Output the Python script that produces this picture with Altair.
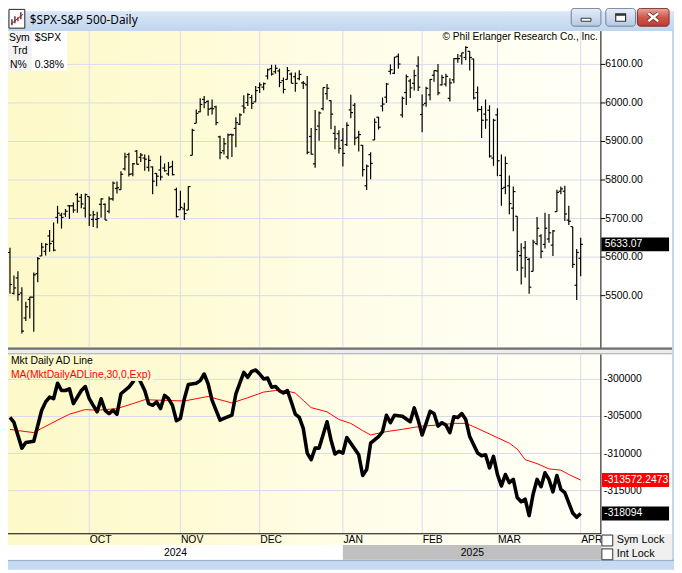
import altair as alt
import pandas as pd

# ---------------- data ----------------
# S&P 500 daily bars, 2024-09-03 .. 2025-04-01 (index = trading day)
opens = [5612,5506,5546,5507,5442,5490,5496,5557,5603,5615,5655,5641,5703,5709,5712,5733,5733,5762,5755,5727,
         5757,5698,5698,5737,5737,5719,5751,5778,5775,5829,5866,5816,5875,5859,5857,5833,5834,5817,5826,5831,5816,5835,5775,
         5723,5725,5722,5864,5947,5977,6009,6004,5986,5990,5912,5876,5860,5918,5934,5945,5992,6001,6014,6003,
         6040,6041,6070,6089,6081,6083,6058,6061,6075,6068,6063,6052,6047,5913,5842,5940,5985,6024,6006,5921,5920,
         5903,5892,5982,5994,5911,5890,5785,5866,5904,5963,5992,6015,6082,6077,6121,5969,6027,6057,6051,6096,
         5970,5999,6021,6072,6083,6047,6049,6012,6060,6115,6122,6118,6134,6114,6027,5983,5971,5981,5857,
         5969,5812,5781,5785,5727,5706,5604,5624,5594,5563,5635,5655,5633,5647,5631,5718,5771,5771,5696,5679,5527,
         5597]
highs = [5624,5552,5563,5522,5484,5497,5560,5600,5637,5636,5670,5690,5733,5715,5725,5735,5742,5767,5764,5765,
         5757,5720,5718,5753,5739,5757,5796,5796,5823,5871,5871,5844,5878,5870,5866,5864,5835,5818,5863,5843,5847,5850,5780,
         5772,5741,5784,5933,5983,6012,6018,6007,6009,5993,5915,5909,5921,5920,5963,5973,6020,6025,6021,6044,
         6053,6053,6089,6099,6099,6089,6066,6093,6079,6079,6085,6057,6070,5935,5982,5978,6040,6049,6007,5941,5929,
         5935,5950,6021,6000,5928,5891,5840,5872,5960,5964,6014,6052,6100,6119,6128,6017,6074,6063,6086,6121,
         6022,6042,6062,6084,6101,6073,6076,6064,6116,6127,6130,6147,6134,6115,6043,5992,6009,5994,5959,
         5986,5866,5861,5812,5783,5706,5636,5642,5598,5645,5704,5659,5715,5712,5670,5775,5783,5785,5733,5679,5621,
         5650]
lows = [5505,5503,5487,5402,5434,5441,5406,5535,5603,5604,5614,5615,5687,5674,5704,5699,5715,5715,5727,5703,
        5681,5678,5675,5703,5696,5714,5746,5765,5775,5825,5809,5810,5840,5847,5824,5822,5763,5784,5799,5822,5811,5812,5703,
        5723,5696,5722,5864,5947,5976,5986,5967,5970,5942,5854,5866,5854,5860,5885,5943,5973,5992,5984,6003,
        6026,6033,6061,6071,6076,6041,6025,6061,6051,6029,6059,6036,5867,5866,5832,5902,5981,6008,5932,5880,5869,
        5835,5888,5960,5890,5874,5809,5774,5802,5904,5931,5978,6000,6074,6075,6089,5962,5995,6013,6032,6031,
        5924,5990,6007,6055,6020,6045,6043,6004,6051,6104,6100,6111,6084,6009,5977,5909,5933,5858,5837,
        5810,5733,5763,5711,5667,5564,5529,5547,5505,5563,5631,5597,5622,5637,5603,5718,5763,5694,5683,5572,5489,
        5550]
closes = [5529,5520,5503,5408,5471,5496,5554,5596,5626,5633,5635,5618,5714,5703,5719,5733,5722,5745,5738,5762,
          5709,5710,5700,5751,5696,5751,5792,5780,5815,5860,5815,5842,5841,5865,5854,5851,5797,5810,5808,5824,5833,5814,5705,
          5729,5713,5783,5929,5973,5996,6001,5984,5985,5949,5871,5894,5917,5917,5949,5969,5987,6022,5999,6032,
          6047,6050,6086,6075,6090,6053,6035,6084,6051,6051,6074,6051,5872,5867,5931,5974,6040,6038,5971,5907,5882,
          5869,5942,5975,5909,5918,5827,5836,5843,5950,5937,5997,6049,6086,6119,6101,6012,6068,6039,6071,6041,
          5995,6038,6061,6084,6026,6066,6069,6052,6115,6115,6130,6144,6118,6013,5983,5955,5956,5862,5955,
          5850,5778,5843,5739,5770,5615,5572,5599,5522,5639,5675,5615,5675,5663,5668,5768,5777,5712,5693,5581,5612,
          5633.07]

# Market daily advance/decline line (vertices)
ad_idx = [0,1,3,4,6,8,9,10,11,12,13,14,15,16,18,19,20,21,22,23,24,25,26,27,28,30,31,32,33,34,35,36,37,38,39,40,
          41,42,43,44,45,47,48,49,50,51,53,54,56,57,59,60,61,62,63,64,65,66,67,68,69,70,71,72,73,74,75,76,77,78,
          80,81,82,83,84,85,86,88,89,90,91,93,94,95,96,97,99,101,102,103,104,105,106,107,108,109,110,111,112,113,
          114,115,116,118,119,120,121,122,123,124,125,126,127,128,129,130,131,132,133,134,135,136,137,138,139,140,
          142,143,144]
ad_vals = [-305133,-305800,-309267,-308507,-308333,-304160,-303040,-302373,-302600,-300507,-301493,-301493,-301267,
           -303267,-301493,-300960,-302600,-303493,-304373,-302600,-304160,-304600,-304160,-304693,-301933,-301040,
           -300373,-299400,-300373,-301493,-303267,-303493,-303040,-303933,-302160,-302600,-303493,-305573,-305267,
           -302600,-300693,-300507,-300160,-299267,-300600,-302827,-305493,-305267,-304827,-301933,-299040,-299707,
           -298907,-298733,-299267,-299933,-299800,-301040,-300960,-301533,-301840,-301493,-303040,-304693,-305133,
           -306600,-309933,-310827,-309267,-309267,-305707,-308160,-310067,-309707,-309933,-307840,-308600,-310160,
           -312960,-312160,-308600,-307707,-307040,-304827,-305840,-304827,-304960,-305707,-303840,-305493,-307493,
           -305933,-304293,-304600,-306293,-305840,-306160,-307173,-305040,-305133,-304600,-305400,-307707,-309933,
           -310293,-310160,-311933,-310373,-312827,-314373,-312827,-313933,-313493,-315933,-316507,-316160,-318373,
           -315493,-313493,-314467,-312600,-313493,-315173,-312960,-314827,-315267,-318027,-318600,-318094]
# 30-day exponential moving average of the AD line
ma_idx = [0,2,6,8,12,15,19,22,27,31,34,39,44,47,50,52,56,60,64,67,70,72,74,76,80,83,86,89,91,95,99,104,108,112,
          115,117,121,126,128,130,133,136,139,141,144]
ma_vals = [-306733,-306907,-307173,-306600,-305493,-304693,-304067,-304160,-303933,-303267,-302733,-302827,-302907,
           -302600,-302293,-302600,-303173,-302467,-301707,-301493,-301573,-301840,-302827,-303800,-304373,-305400,
           -305933,-306907,-307493,-307040,-306733,-306293,-306160,-305933,-305933,-306373,-307360,-308600,-309400,
           -310827,-311360,-312067,-312240,-312827,-313572.2473]

months = ["OCT", "NOV", "DEC", "JAN", "FEB", "MAR", "APR"]
month_idx = [20, 43, 63, 84, 104, 123, 144]
years = ["2024", "2025"]
year_start = [-0.5, 84]
year_end = [84, 149.35]
price_ticks = [5500, 5600, 5700, 5800, 5900, 6000, 6100]
ad_ticks = [-300000, -305000, -310000, -315000]
price_last_label = "5633.07"
ma_last_label = "-313572.2473"
ad_last_label = "-318094"

# ---------------- tables ----------------
n = len(closes)
bars = pd.DataFrame({"i": list(range(n)), "o": opens, "h": highs, "l": lows, "c": closes})
ad = pd.DataFrame({"i": ad_idx, "v": ad_vals})
ma = pd.DataFrame({"i": ma_idx, "v": ma_vals})
mon = pd.DataFrame({"i": month_idx, "m": months})
yr = pd.DataFrame({"y": years, "s": year_start, "e": year_end})
yr["mid"] = (yr["s"] + yr["e"]) / 2
pt = pd.DataFrame({"v": price_ticks, "lab": [f"{v:.2f}" for v in price_ticks]})
at = pd.DataFrame({"v": ad_ticks, "lab": [str(v) for v in ad_ticks]})
plast = pd.DataFrame({"v": [closes[-1]], "lab": [price_last_label]})
malast = pd.DataFrame({"v": [ma_vals[-1]], "lab": [ma_last_label]})
adlast = pd.DataFrame({"v": [ad_vals[-1]], "lab": [ad_last_label]})
one = pd.DataFrame({"k": [0]})

FONT = "Liberation Sans"
GRID = "#d9d9ef"
FS = 10.5

X = alt.Scale(domain=[-0.5, 149.1], range=[0, 600], nice=False, zero=False)
YP = alt.Scale(domain=[5365.9, 6186.4], range=[340, 20], nice=False, zero=False)
YA = alt.Scale(domain=[-320733, -296733], range=[528, 348], nice=False, zero=False)


def xq(f):
    return alt.X(f"{f}:Q", scale=X, axis=None)


def yp(f):
    return alt.Y(f"{f}:Q", scale=YP, axis=None)


def ya(f):
    return alt.Y(f"{f}:Q", scale=YA, axis=None)


def grad(stops, vertical=False):
    return alt.LinearGradient(
        gradient="linear",
        stops=[alt.GradientStop(color=c, offset=o) for o, c in stops],
        x1=0, y1=0, x2=0 if vertical else 1, y2=1 if vertical else 0)


def box(x, x2, y, y2, **kw):
    return alt.Chart(one).mark_rect(**kw).encode(
        x=alt.value(x), x2=alt.value(x2), y=alt.value(y), y2=alt.value(y2))


def seg(x, x2, y, y2, **kw):
    return alt.Chart(one).mark_rule(**kw).encode(
        x=alt.value(x), x2=alt.value(x2), y=alt.value(y), y2=alt.value(y2))


def label(s, x, y, **kw):
    kw.setdefault("font", FONT)
    kw.setdefault("fontSize", FS)
    kw.setdefault("color", "black")
    return alt.Chart(one).mark_text(text=s, **kw).encode(x=alt.value(x), y=alt.value(y))


PANEL = grad([(0, "#fdf9c9"), (0.3, "#fefbd5"), (0.65, "#fffeec"), (1, "#fffff7")])

layers = []
# window chrome
layers += [
    box(0, 674, 0, 20, fill=grad([(0, "#d9e7f7"), (1, "#c0d5ee")], vertical=True)),
    box(672, 674, 20, 565, fill="#c3d7ef"),
    box(0, 674, 555, 565, fill="#c6daf1"),
    seg(0, 674, 555.5, 555.5, color="#8aa2c2", strokeWidth=1),
    # icon
    box(1, 17, -2, 17, fill="white", stroke="#222222", strokeWidth=1),
    seg(4, 4, 8, 14, color="#222222", strokeWidth=1.3),
    seg(7, 7, 5, 12, color="#222222", strokeWidth=1.3),
    seg(10, 10, 6, 10, color="#cc0000", strokeWidth=1.3),
    seg(13, 13, 1, 8, color="#222222", strokeWidth=1.3),
    seg(3, 15, 13, 3, color="#cc0000", strokeWidth=1),
    label("$SPX-S&P 500-Daily", 22, 8.5, align="left", font="Noto Sans", fontSize=12),
    # buttons
    box(570, 600, -3, 15, fill=grad([(0, "#e6eef8"), (1, "#b6c9e2")], vertical=True),
        stroke="#6f7f99", cornerRadius=3),
    box(580, 590, 7, 10, fill="white", stroke="#333333", strokeWidth=1),
    box(605, 635, -3, 15, fill=grad([(0, "#e6eef8"), (1, "#b6c9e2")], vertical=True),
        stroke="#6f7f99", cornerRadius=3),
    box(615, 625, 2.5, 10, fill="white", stroke="#333333", strokeWidth=1.2),
    seg(615, 625, 3.5, 3.5, color="#333333", strokeWidth=2),
    box(637, 669, -3, 15, fill=grad([(0, "#e8a79d"), (0.5, "#d0594c"), (1, "#c0392f")], vertical=True),
        stroke="#7c2e27", cornerRadius=3),
    seg(648, 658, 2, 10, color="#5a1a15", strokeWidth=4),
    seg(648, 658, 10, 2, color="#5a1a15", strokeWidth=4),
    seg(648, 658, 2, 10, color="white", strokeWidth=2.5),
    seg(648, 658, 10, 2, color="white", strokeWidth=2.5),
]
# panel backgrounds
layers += [
    box(0, 600, 20, 340.3, fill=PANEL),
    box(600, 672, 20, 340.3, fill="white"),
    box(0, 672, 340, 347.3, fill="#ededed"),
    box(0, 672, 340.3, 342.5, fill="#707070"),
    box(0, 672, 346, 347.3, fill="#a9a9a9"),
    box(0, 600, 347.3, 528.7, fill=PANEL),
    box(600, 672, 347.3, 529, fill="white"),
    box(0, 600, 529, 540, fill=PANEL),
    box(601, 672, 529, 555, fill="#f0f0f0"),
]
# gridlines
layers += [
    alt.Chart(mon).mark_rule(color=GRID, strokeWidth=1).encode(x=xq("i"), y=alt.value(20), y2=alt.value(340)),
    alt.Chart(mon).mark_rule(color=GRID, strokeWidth=1).encode(x=xq("i"), y=alt.value(347.3), y2=alt.value(528.5)),
    alt.Chart(pt).mark_rule(color=GRID, strokeWidth=1).encode(x=alt.value(0), x2=alt.value(600), y=yp("v")),
    alt.Chart(at).mark_rule(color=GRID, strokeWidth=1).encode(x=alt.value(0), x2=alt.value(600), y=ya("v")),
]
# price bars
layers += [
    alt.Chart(bars).mark_rule(color="black", strokeWidth=1.2).encode(x=xq("i"), y=yp("l"), y2=alt.Y2("h")),
    alt.Chart(bars).mark_rule(color="black", strokeWidth=1.2, xOffset=-2.2, x2Offset=0).encode(
        x=xq("i"), x2=alt.X2("i"), y=yp("o")),
    alt.Chart(bars).mark_rule(color="black", strokeWidth=1.2, xOffset=0, x2Offset=2.2).encode(
        x=xq("i"), x2=alt.X2("i"), y=yp("c")),
]
# AD line + moving average
layers += [
    alt.Chart(ma).mark_line(color="#ff0000", strokeWidth=1).encode(x=xq("i"), y=ya("v")),
    alt.Chart(ad).mark_line(color="black", strokeWidth=3.6, strokeJoin="round").encode(x=xq("i"), y=ya("v")),
    box(117, 147, 361, 374, fill="#fefbd6"),
    label("Mkt Daily AD Line", 3, 354, align="left"),
    label("MA(MktDailyADLine,30,0,Exp)", 3, 368.5, align="left", color="#ff0000"),
]
# axes, tick labels, value boxes
layers += [
    seg(600, 600, 20, 340.3, color="black", strokeWidth=1),
    seg(600, 600, 347.3, 529, color="black", strokeWidth=1),
    seg(0, 600, 528.7, 528.7, color="black", strokeWidth=1),
    alt.Chart(pt).mark_rule(color="black", strokeWidth=1).encode(x=alt.value(600), x2=alt.value(604.5), y=yp("v")),
    alt.Chart(pt).mark_text(align="left", font=FONT, fontSize=FS, color="black").encode(
        x=alt.value(604.5), y=yp("v"), text="lab:N"),
    alt.Chart(at).mark_text(align="left", font=FONT, fontSize=FS, color="black").encode(
        x=alt.value(603), y=ya("v"), text="lab:N"),
    alt.Chart(plast).mark_rect(color="black", yOffset=-7, y2Offset=7).encode(
        x=alt.value(600.5), x2=alt.value(669), y=yp("v"), y2=alt.Y2("v")),
    alt.Chart(plast).mark_text(align="left", font=FONT, fontSize=FS, color="white").encode(
        x=alt.value(604), y=yp("v"), text="lab:N"),
    alt.Chart(malast).mark_rect(color="#ff0000", yOffset=-7, y2Offset=7).encode(
        x=alt.value(601), x2=alt.value(669), y=ya("v"), y2=alt.Y2("v")),
    alt.Chart(malast).mark_text(align="left", font=FONT, fontSize=FS, color="white").encode(
        x=alt.value(603.5), y=ya("v"), text="lab:N"),
    alt.Chart(adlast).mark_rect(color="black", yOffset=-7, y2Offset=7).encode(
        x=alt.value(601), x2=alt.value(669), y=ya("v"), y2=alt.Y2("v")),
    alt.Chart(adlast).mark_text(align="left", font=FONT, fontSize=FS, color="white").encode(
        x=alt.value(603.5), y=ya("v"), text="lab:N"),
]
# date axis
layers += [
    alt.Chart(mon).mark_text(align="left", font=FONT, fontSize=FS, color="black", dx=0.5).encode(
        x=xq("i"), y=alt.value(535), text="m:N"),
    alt.Chart(yr).mark_rect().encode(
        x=xq("s"), x2=alt.X2("e"), y=alt.value(540), y2=alt.value(555),
        color=alt.Color("y:N", scale=alt.Scale(domain=years, range=["#ffffff", "#c0c0c0"]), legend=None)),
    alt.Chart(yr).mark_text(font=FONT, fontSize=FS, color="black").encode(
        x=xq("mid"), y=alt.value(548), text="y:N"),
    box(601, 612, 530, 541, fill="white", stroke="#333333", strokeWidth=1),
    box(601, 612, 544, 555, fill="white", stroke="#333333", strokeWidth=1),
    label("Sym Lock", 616, 535.5, align="left", fontSize=11),
    label("Int Lock", 616, 549.5, align="left", fontSize=11),
]
# info box + copyright
layers += [
    box(0, 60, 20, 60, fill="white"),
    box(0, 24, 20, 60, fill="#f2f2f2"),
    label("Sym", 11.5, 27),
    label("Trd", 12, 40.5),
    label("N%", 10.5, 54),
    label("$SPX", 27, 27, align="left"),
    label("0.38%", 27, 54, align="left"),
    label("\u00a9 Phil Erlanger Research Co., Inc.", 597, 26, align="right", fontSize=10.3),
]

chart = alt.layer(*layers).resolve_scale(y="independent").properties(
    width=674, height=565, padding=0,
    autosize=alt.AutoSizeParams(type="none"),
).configure_view(stroke=None)

chart.save("out.html", embed_options={"renderer": "svg", "actions": False})
